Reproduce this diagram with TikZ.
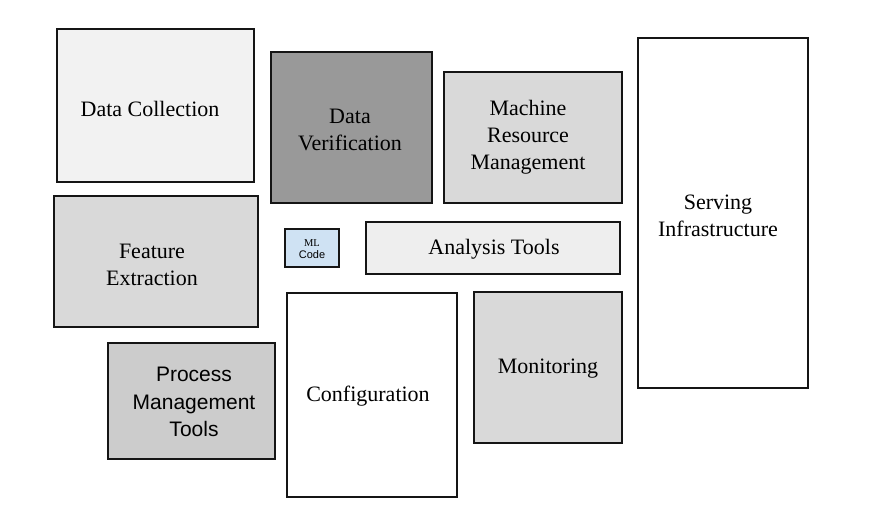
\documentclass[tikz,border=0pt]{standalone}
\usepackage{fontspec}
\setmainfont{Liberation Serif}
\setsansfont{Liberation Sans}
\usepackage{tikz}

\definecolor{paleGray}{HTML}{F2F2F2}
\definecolor{lightGray}{HTML}{D9D9D9}
\definecolor{midGray}{HTML}{CCCCCC}
\definecolor{darkGray}{HTML}{999999}
\definecolor{veryPale}{HTML}{EEEEEE}
\definecolor{codeBlue}{HTML}{CFE2F3}
\definecolor{edgeBlack}{HTML}{151515}

\tikzset{
  box/.style={draw=edgeBlack, line width=2pt},
  lbl/.style={align=center, font=\fontsize{22}{27}\selectfont},
  sanslbl/.style={align=center, font=\sffamily\fontsize{21}{27.5}\selectfont}
}

\begin{document}
\begin{tikzpicture}[x=1pt, y=-1pt]
    \useasboundingbox (0,0) rectangle (886,519);

    % Left column
    \draw[box, fill=paleGray] (57,29) rectangle (254,182);
    \node[lbl] (collect) at (150,109) {Data Collection};

    \draw[box, fill=lightGray] (54,196) rectangle (258,327);
    \node[lbl] (feature) at (152,265) {Feature\\Extraction};

    \draw[box, fill=midGray] (108,343) rectangle (275,459);
    \node[sanslbl] (process) at (194,402) {Process\\Management\\Tools};

    % Middle
    \draw[box, fill=darkGray] (271,52) rectangle (432,203);
    \node[lbl] (verify) at (350,129.5) {Data\\Verification};

    \draw[box, fill=codeBlue] (285,229) rectangle (339,267);
    \node[align=center, inner sep=0pt] (mlcode) at (312,249)
        {\fontsize{10.5}{14}\selectfont ML\\\sffamily\fontsize{11}{14}\selectfont Code};

    \draw[box, fill=white] (287,293) rectangle (457,497);
    \node[lbl] (config) at (368,396) {Configuration};

    \draw[box, fill=veryPale] (366,222) rectangle (620,274);
    \node[lbl] (analysis) at (494,249) {Analysis Tools};

    % Right
    \draw[box, fill=lightGray] (444,72) rectangle (622,203);
    \node[lbl] (resource) at (528,137.5) {Machine\\Resource\\Management};

    \draw[box, fill=lightGray] (474,292) rectangle (622,443);
    \node[lbl] (monitor) at (548,369) {Monitoring};

    \draw[box, fill=white] (638,38) rectangle (808,388);
    \node[lbl] (serving) at (718,216) {Serving\\Infrastructure};
\end{tikzpicture}
\end{document}
